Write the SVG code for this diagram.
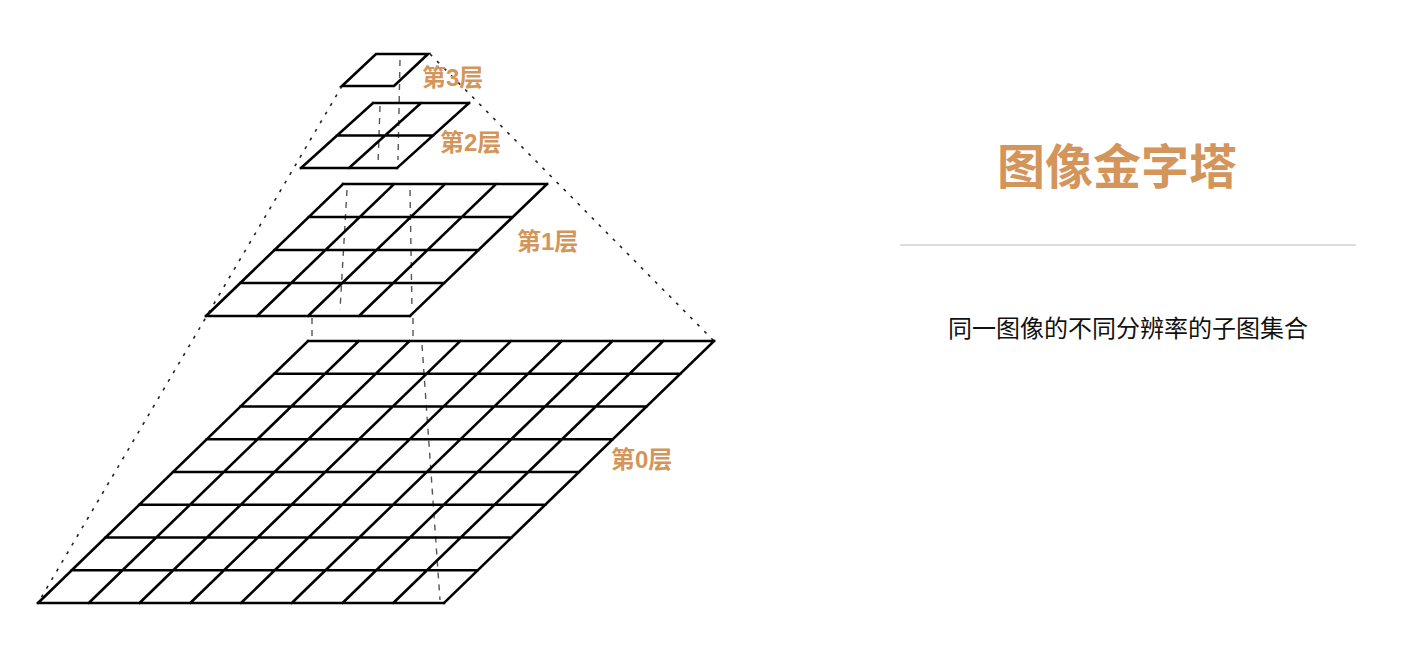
<svg xmlns="http://www.w3.org/2000/svg" width="1423" height="662" viewBox="0 0 1423 662">
<style>
.g{stroke:#000;stroke-width:2.6;fill:none;stroke-linecap:square}
.dot{stroke:#222;stroke-width:1.6;stroke-dasharray:3 7;fill:none}
.dash{stroke:#555;stroke-width:1.4;stroke-dasharray:6 6;fill:none}
.lbl{font-family:"Liberation Sans","Noto Sans CJK SC",sans-serif;font-weight:bold;font-size:24px;fill:#D4955A}
</style>
<rect width="1423" height="662" fill="#fff"/>
<g id="connectors">
<path class="dot" d="M342,86 L38,603"/>
<path class="dot" d="M430,54 L714,341"/>
<path class="dash" d="M312,318 L312,340 M413,318 L413,340 M422,345 L440,600 M347,190 L340,310 M410,190 L412,310 M380,106 L378,165 M400,60 L398,160"/>
</g>
<g id="layer0">
<path class="g" d="M308,341H714M274.25,373.75H680.25M240.5,406.5H646.5M206.75,439.25H612.75M173,472H579M139.25,504.75H545.25M105.5,537.5H511.5M71.75,570.25H477.75M38,603H444
M308,341L38,603M358.75,341L88.75,603M409.5,341L139.5,603M460.25,341L190.25,603M511,341L241,603M561.75,341L291.75,603M612.5,341L342.5,603M663.25,341L393.25,603M714,341L444,603"/>
<text class="lbl" x="611" y="468">第0层</text>
</g>
<g id="layer1">
<path class="g" d="M343,184H547M308.75,217H512.75M274.5,250H478.5M240.25,283H444.25M206,316H410
M343,184L206,316M394,184L257,316M445,184L308,316M496,184L359,316M547,184L410,316"/>
<text class="lbl" x="517" y="250">第1层</text>
</g>
<g id="layer2">
<path class="g" d="M373,103H469M337,135.5H433M301,168H397M373,103L301,168M421,103L349,168M469,103L397,168"/>
<text class="lbl" x="440" y="151">第2层</text>
</g>
<g id="layer3">
<polygon class="g" points="376,54 428,54 394,86 342,86"/>
<text class="lbl" x="422" y="86">第3层</text>
</g>
<g id="title">
<text x="1117" y="184" text-anchor="middle" font-family="Liberation Sans,'Noto Sans CJK SC',sans-serif" font-weight="bold" font-size="48" fill="#D4955A">图像金字塔</text>
<line x1="900" y1="245" x2="1356" y2="245" stroke="#bbb" stroke-width="1.2"/>
<text x="1128" y="337" text-anchor="middle" font-family="Liberation Sans,'Noto Sans CJK SC',sans-serif" font-size="24" fill="#111">同一图像的不同分辨率的子图集合</text>
</g>
</svg>
